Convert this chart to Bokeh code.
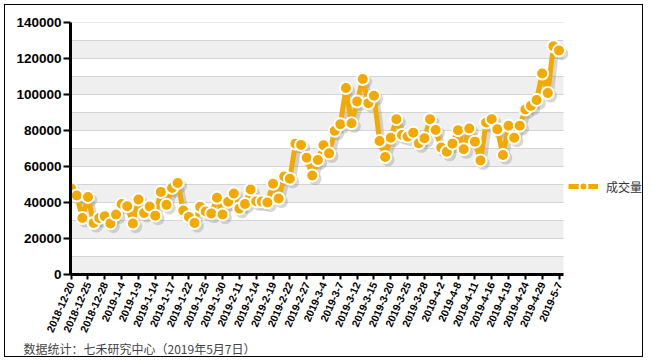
from bokeh.plotting import figure
from bokeh.models import (Range1d, FixedTicker, SingleIntervalTicker, BoxAnnotation,
                          Legend, LegendItem, Title, ColumnDataSource, BasicTickFormatter)
from bokeh.embed import file_html
from bokeh.resources import INLINE

tick_labels = ["2018-12-20", "2018-12-25", "2018-12-28", "2019-1-4", "2019-1-9", "2019-1-14",
               "2019-1-17", "2019-1-22", "2019-1-25", "2019-1-30", "2019-2-11", "2019-2-14",
               "2019-2-19", "2019-2-22", "2019-2-27", "2019-3-4", "2019-3-7", "2019-3-12",
               "2019-3-15", "2019-3-20", "2019-3-25", "2019-3-28", "2019-4-2", "2019-4-8",
               "2019-4-11", "2019-4-16", "2019-4-19", "2019-4-24", "2019-4-29", "2019-5-7"]

volume = [47800, 43900, 31400, 43100, 28600, 31400, 32300, 28400, 33300, 39200,
          37900, 28300, 41700, 34200, 37800, 32700, 45900, 38700, 48100, 50800,
          35500, 32000, 28600, 37600, 35000, 33900, 42600, 33300, 40400, 45000,
          36600, 39200, 47200, 40700, 40500, 40000, 50400, 42200, 54500, 53200,
          72700, 72000, 64900, 55000, 63600, 71800, 67300, 79800, 83500, 103600,
          84000, 96100, 108600, 95200, 99300, 74200, 65300, 76000, 86300, 77500,
          76600, 78800, 72900, 75700, 86300, 80300, 70500, 68200, 72700, 80200,
          69600, 81100, 73800, 63400, 84400, 86300, 80700, 66400, 82600, 76000,
          82600, 91700, 93700, 96900, 111700, 100800, 126800, 124400]

series_name = "成交量"
footer = "数据统计：七禾研究中心（2019年5月7日）"
label_step = 3

idx = list(range(len(volume)))
src = ColumnDataSource(dict(x=idx, y=volume))

ORANGE = "#F4A900"
XS, XE = -0.12, len(volume) - 1 + 0.8      # extent of the drawn axis
YS, YE = 0, 140000
DATA_W, FRAME_W = 493, 574                 # px: axis length, frame width (frame also hosts legend)
XF = XS + (XE - XS) * FRAME_W / DATA_W

p = figure(width=639, height=353, output_backend="svg", toolbar_location=None,
           x_range=Range1d(XS, XF), y_range=Range1d(YS, YE),
           min_border_left=65, min_border_right=0, min_border_top=17, min_border_bottom=84,
           background_fill_color="white", border_fill_color="white")
p.styles = {"margin-left": "4px", "margin-top": "4px", "border": "1px solid black"}
p.outline_line_color = None

# alternating bands and grid lines, limited to the axis extent
for k in range(YS, YE, 20000):
    p.add_layout(BoxAnnotation(bottom=k, top=k + 10000, left=XS, right=XE,
                               fill_color="#EFEFEF", fill_alpha=1,
                               line_color=None, level="image"))
p.xgrid.visible = False
p.ygrid.visible = False
for k in range(YS + 10000, YE + 1, 10000):
    p.add_layout(BoxAnnotation(bottom=k, top=k, left=XS, right=XE, fill_alpha=0,
                               line_color="#B4B4B4", line_width=1, level="underlay"))

# shadow via shifted ranges
p.extra_x_ranges = {"sh": Range1d(XS - 0.5, XF - 0.5)}
p.extra_y_ranges = {"sh": Range1d(YS + 1700, YE + 1700)}
p.line("x", "y", source=src, x_range_name="sh", y_range_name="sh",
       line_color="#7a7a7a", line_alpha=0.3, line_width=6)
p.scatter("x", "y", source=src, x_range_name="sh", y_range_name="sh", size=13,
          fill_color="#7a7a7a", fill_alpha=0.3, line_color=None)

lr = p.line("x", "y", source=src, line_color=ORANGE, line_width=5)
sr = p.scatter("x", "y", source=src, size=12, fill_color=ORANGE, line_color="white", line_width=2)

# axes
ya = p.yaxis[0]
ya.ticker = SingleIntervalTicker(interval=20000, num_minor_ticks=0)
ya.formatter = BasicTickFormatter(use_scientific=False)
ya.axis_line_width = 3
ya.axis_line_color = "black"
ya.major_tick_line_width = 2
ya.major_tick_out = 7
ya.major_tick_in = 0
ya.minor_tick_line_color = None
ya.major_label_text_font = "Liberation Sans"
ya.major_label_text_font_style = "bold"
ya.major_label_text_font_size = "13.5px"
ya.major_label_text_color = "black"
ya.major_label_standoff = 2

xa = p.xaxis[0]
ticks = idx[::label_step]
xa.ticker = FixedTicker(ticks=ticks)
xa.bounds = (XS, XE)
xa.major_label_overrides = {t: lab for t, lab in zip(ticks, tick_labels)}
xa.axis_line_width = 3
xa.axis_line_color = "black"
xa.major_tick_line_width = 2
xa.major_tick_out = 5
xa.major_tick_in = 0
xa.minor_tick_line_color = None
xa.major_label_orientation = 1.15
xa.major_label_text_font = "Liberation Sans"
xa.major_label_text_font_style = "bold"
xa.major_label_text_font_size = "10.5px"
xa.major_label_text_color = "black"
xa.major_label_standoff = 3

legend = Legend(items=[LegendItem(label=series_name, renderers=[lr, sr])],
                location=(498, 78), margin=0, padding=4, glyph_width=30, glyph_height=20,
                label_standoff=8, label_text_font="Noto Sans CJK SC",
                label_text_font_size="12px", label_text_color="#333333",
                border_line_color=None, background_fill_alpha=0)
p.add_layout(legend)

p.add_layout(Title(text=footer, align="left", offset=-47, text_font="Noto Sans CJK SC",
                   text_font_size="12px", text_font_style="normal", text_color="#444444",
                   standoff=1), "below")

open("out.html", "w").write(file_html(p, INLINE))
